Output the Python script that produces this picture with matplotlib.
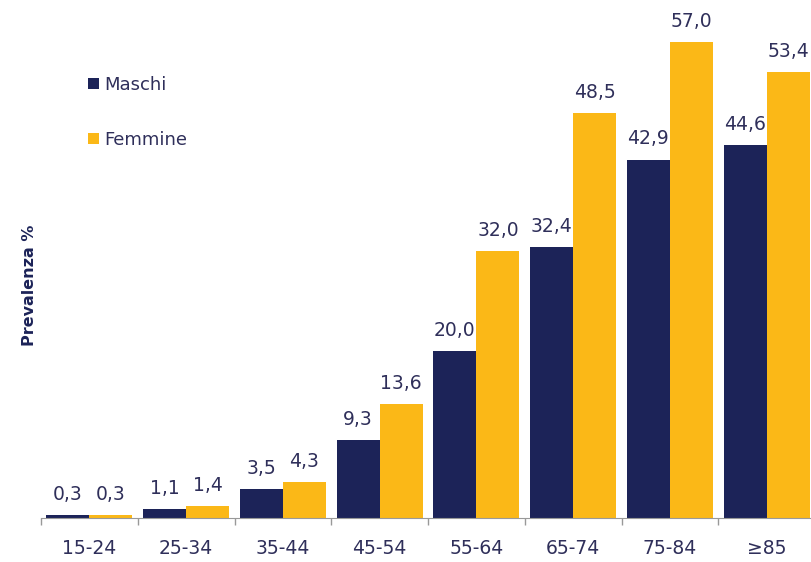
import matplotlib
matplotlib.use("Agg")
import matplotlib.pyplot as plt
import numpy as np

categories = ["15-24", "25-34", "35-44", "45-54", "55-64", "65-74", "75-84", "≥85"]
maschi = [0.3, 1.1, 3.5, 9.3, 20.0, 32.4, 42.9, 44.6]
femmine = [0.3, 1.4, 4.3, 13.6, 32.0, 48.5, 57.0, 53.4]
series_names = ["Maschi", "Femmine"]

navy = "#1c2358"
yellow = "#fbb817"
text_col = "#2f2f5a"

fig = plt.figure(figsize=(8.12, 5.62), dpi=100)
ax = fig.add_axes([41/812, 44/562, 774/812, 518/562])

x = np.arange(len(categories))
w = 0.445
b1 = ax.bar(x - w/2, maschi, w, color=navy, label=series_names[0])
b2 = ax.bar(x + w/2, femmine, w, color=yellow, label=series_names[1])

for bars, vals in ((b1, maschi), (b2, femmine)):
    for rect, v in zip(bars, vals):
        ax.annotate(f"{v:.1f}".replace(".", ","),
                    (rect.get_x() + rect.get_width()/2, rect.get_height()),
                    xytext=(0, 8), textcoords="offset points",
                    ha="center", va="bottom", fontsize=13.5, color=text_col)

ax.set_xlim(-0.5, len(categories) - 0.5)
ax.set_ylim(0, 62.0)
ax.set_yticks([])
ax.set_xticks(x)
ax.set_xticklabels(categories, fontsize=13.5, color=text_col)
ax.set_xticks(np.arange(len(categories) + 1) - 0.5, minor=True)
ax.tick_params(axis="x", which="major", length=0, pad=15)
ax.tick_params(axis="x", which="minor", length=5, color="#999999", width=1)
for s in ("top", "right", "left"):
    ax.spines[s].set_visible(False)
ax.spines["bottom"].set_color("#999999")

fig.text(30/812, 1 - 285/562, "Prevalenza %", rotation=90, ha="center", va="center",
         fontsize=11.5, fontweight="bold", color=navy)

leg = fig.legend(handles=[b1, b2], loc="upper left",
                 bbox_to_anchor=(88/812, 1 - 76/562),
                 frameon=False, fontsize=13,
                 handlelength=0.6, handleheight=0.6, handletextpad=0.3,
                 labelspacing=2.05, borderaxespad=0, borderpad=0)
for t in leg.get_texts():
    t.set_color(text_col)

fig.savefig("out.png", dpi=100)
